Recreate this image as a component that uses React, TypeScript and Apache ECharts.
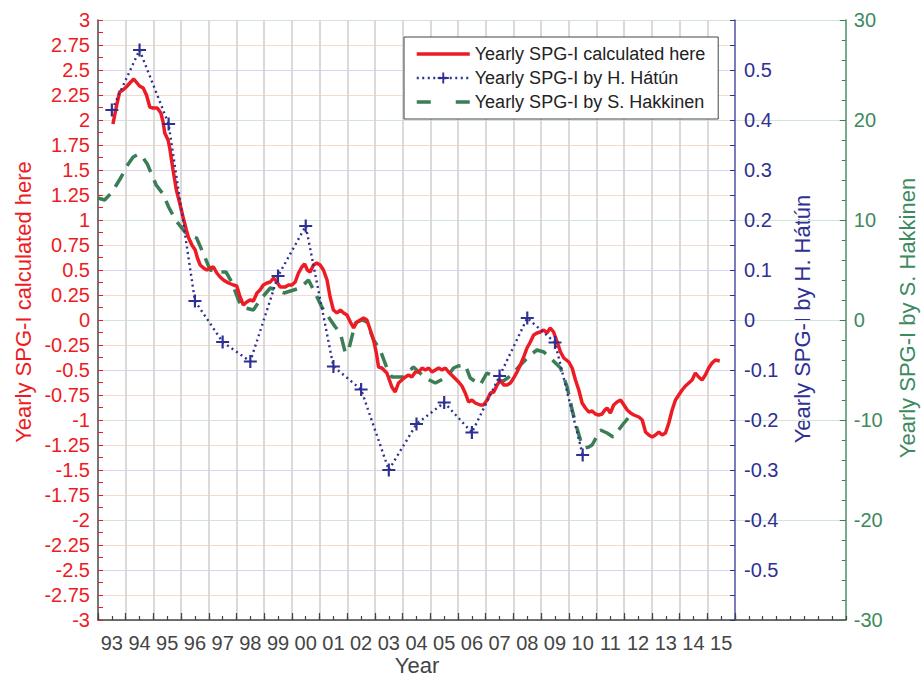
import React, { useEffect, useRef } from "react";
import * as echarts from "echarts";

// ---------- data ----------
const redYears = [
  1993.54, 1993.66, 1993.78, 1993.9, 1994.02, 1994.15, 1994.29, 1994.38, 1994.5, 1994.63,
  1994.75, 1994.87, 1994.99, 1995.14, 1995.27, 1995.35, 1995.41, 1995.53, 1995.59, 1995.71,
  1995.83, 1995.95, 1996.07, 1996.19, 1996.26, 1996.39, 1996.51, 1996.59, 1996.69, 1996.81,
  1996.93, 1997.05, 1997.17, 1997.29, 1997.41, 1997.53, 1997.71, 1997.89, 1998.01, 1998.13,
  1998.25, 1998.37, 1998.49, 1998.61, 1998.74, 1998.85, 1998.97, 1999.1, 1999.22, 1999.34,
  1999.46, 1999.58, 1999.76, 1999.88, 2000.0, 2000.12, 2000.24, 2000.36, 2000.46, 2000.56,
  2000.66, 2000.78, 2000.9, 2001.02, 2001.14, 2001.27, 2001.38, 2001.5, 2001.63, 2001.75,
  2001.87, 2001.99, 2002.11, 2002.23, 2002.35, 2002.47, 2002.59, 2002.71, 2002.83, 2002.95,
  2003.05, 2003.13, 2003.25, 2003.43, 2003.61, 2003.73, 2003.85, 2003.97, 2004.1, 2004.21,
  2004.33, 2004.46, 2004.58, 2004.7, 2004.82, 2004.94, 2005.06, 2005.18, 2005.3, 2005.42,
  2005.54, 2005.66, 2005.84, 2006.02, 2006.14, 2006.26, 2006.38, 2006.5, 2006.62, 2006.8,
  2006.92, 2007.05, 2007.17, 2007.29, 2007.41, 2007.53, 2007.65, 2007.77, 2007.89, 2008.01,
  2008.13, 2008.25, 2008.37, 2008.49, 2008.61, 2008.73, 2008.85, 2008.97, 2009.09, 2009.21,
  2009.33, 2009.45, 2009.58, 2009.7, 2009.82, 2010.0, 2010.12, 2010.24, 2010.36, 2010.48,
  2010.6, 2010.72, 2010.84, 2010.96, 2011.08, 2011.2, 2011.3, 2011.38, 2011.5, 2011.62,
  2011.74, 2011.87, 2011.99, 2012.11, 2012.23, 2012.35, 2012.53, 2012.65, 2012.77, 2012.89,
  2013.01, 2013.13, 2013.25, 2013.37, 2013.49, 2013.61, 2013.73, 2013.85, 2013.97, 2014.09,
  2014.21, 2014.33, 2014.45, 2014.57, 2014.69, 2014.81, 2014.93, 2015.05, 2015.17, 2015.29,
  2015.45,
];
const redValues = [
  1.96, 2.13, 2.28, 2.3, 2.33, 2.37, 2.41, 2.38, 2.34, 2.32,
  2.25, 2.13, 2.12, 2.12, 2.07, 1.98, 1.87, 1.8, 1.72, 1.5,
  1.3, 1.17, 1.03, 0.9, 0.83, 0.75, 0.7, 0.62, 0.55, 0.52,
  0.5, 0.52, 0.53, 0.47, 0.43, 0.4, 0.37, 0.35, 0.34, 0.23,
  0.15, 0.18, 0.2, 0.19, 0.27, 0.3, 0.35, 0.37, 0.38, 0.42,
  0.38, 0.33, 0.33, 0.35, 0.35, 0.38, 0.47, 0.53, 0.56, 0.5,
  0.48, 0.55, 0.57, 0.55, 0.5, 0.4, 0.23, 0.1, 0.07, 0.1,
  0.07, 0.05, -0.02, -0.08, -0.02, 0.0, 0.02, 0.0, -0.1, -0.2,
  -0.33, -0.47, -0.48, -0.53, -0.67, -0.72, -0.63, -0.6, -0.57, -0.55,
  -0.57, -0.52, -0.52, -0.48, -0.5, -0.48, -0.52, -0.5, -0.48, -0.5,
  -0.48, -0.52, -0.57, -0.62, -0.66, -0.73, -0.82, -0.8, -0.83, -0.85,
  -0.85, -0.8, -0.73, -0.72, -0.65, -0.6, -0.65, -0.65, -0.63, -0.58,
  -0.52, -0.45, -0.37, -0.28, -0.22, -0.15, -0.13, -0.12, -0.1, -0.13,
  -0.08, -0.12, -0.22, -0.32, -0.38, -0.42, -0.48, -0.6, -0.7, -0.83,
  -0.88, -0.92, -0.91, -0.94, -0.95, -0.94, -0.9, -0.88, -0.93, -0.85,
  -0.82, -0.8, -0.85, -0.9, -0.93, -0.95, -0.97, -1.0, -1.12, -1.15,
  -1.17, -1.15, -1.12, -1.15, -1.13, -1.03, -0.9, -0.8, -0.75, -0.7,
  -0.66, -0.63, -0.6, -0.53, -0.57, -0.6, -0.55, -0.48, -0.43, -0.4,
  -0.41,
];

const hatunYears = [
  1993.5, 1994.5, 1995.55, 1996.5, 1997.5, 1998.5, 1999.5, 2000.5, 2001.5, 2002.5,
  2003.5, 2004.5, 2005.5, 2006.5, 2007.5, 2008.5, 2009.5, 2010.5,
];
const hatunValues = [
  0.42, 0.54, 0.392, 0.038, -0.044, -0.083, 0.088, 0.188, -0.093, -0.139,
  -0.3, -0.208, -0.165, -0.225, -0.112, 0.004, -0.045, -0.27,
];

const hakYears = [
  1993.0, 1993.24, 1993.48, 1993.62, 1993.84, 1994.02, 1994.27, 1994.47, 1994.63, 1994.78,
  1995.1, 1995.35, 1995.55, 1995.8, 1996.14, 1996.3, 1996.56, 1996.87, 1997.05, 1997.35,
  1997.62, 1997.83, 1998.07, 1998.19, 1998.61, 1998.85, 1999.22, 1999.45, 1999.72, 2000.3,
  2000.6, 2000.84, 2001.08, 2001.57, 2001.75, 2001.93, 2002.05, 2002.29, 2002.53, 2002.71,
  2002.95, 2003.19, 2003.43, 2003.61, 2004.03, 2004.39, 2004.82, 2005.18, 2005.6, 2005.84,
  2006.0, 2006.26, 2006.44, 2006.8, 2007.04, 2007.3, 2007.58, 2007.94, 2008.25, 2008.61,
  2008.85, 2009.1, 2009.33, 2009.7, 2009.94, 2010.12, 2010.24, 2010.42, 2010.58, 2010.72,
  2010.84, 2011.14, 2011.38, 2011.6, 2011.99, 2012.29,
];
const hakValues = [
  12.2, 12.0, 12.7, 13.3, 14.3, 15.3, 16.3, 16.6, 16.2, 15.6,
  13.5, 12.6, 11.3, 10.0, 8.8, 8.5, 8.2, 6.2, 5.0, 4.8,
  4.8, 3.8, 2.0, 1.3, 1.0, 2.0, 3.2, 3.0, 2.7, 3.2,
  4.0, 2.7, 1.3, -0.7, -1.3, -3.3, -3.0, -0.3, 0.0, -0.2,
  -2.0, -3.0, -4.8, -5.7, -5.7, -4.7, -5.8, -6.3, -5.7, -4.8,
  -4.6, -4.5, -5.8, -6.5, -5.3, -5.6, -6.2, -5.5, -4.5, -3.5,
  -3.0, -3.2, -3.8, -4.8, -6.7, -9.0, -10.3, -12.0, -12.8, -12.7,
  -12.5, -11.0, -11.3, -11.7, -10.3, -9.3,
];

const seriesNames = [
  "Yearly SPG-I calculated here",
  "Yearly SPG-I by H. Hátún",
  "Yearly SPG-I by S. Hakkinen",
];
const axisNames = [
  "Yearly SPG-I calculated here",
  "Yearly SPG-I by H. Hátún",
  "Yearly SPG-I by S. Hakkinen",
];
const xName = "Year";

// ---------- styles ----------
const FONT = "Liberation Sans, Arial, Helvetica, sans-serif";
const RED = "#ed1c24";
const NAVY = "#2e3192";
const GREEN = "#3a7d57";
const GREEN_TXT = "#3d8a5e";
const DARK = "#444";

const PLUS =
  "path://M5,0 L7,0 L7,5 L12,5 L12,7 L7,7 L7,12 L5,12 L5,7 L0,7 L0,5 L5,5 Z";

const pair = (xs: number[], ys: number[]) => xs.map((x, i) => [x, ys[i]]);

export default function App() {
  const ref = useRef<HTMLDivElement>(null);

  useEffect(() => {
    if (!ref.current) return;
    const chart = echarts.init(ref.current, undefined, { renderer: "svg" });

    const gridLeft = 98;
    const gridTop = 20;
    const gridH = 600;
    const widthA = 637; // 1993..2016
    const widthB = (widthA * 27) / 23; // 1993..2020

    const option: any = {
      animation: false,
      backgroundColor: "#fff",
      textStyle: { fontFamily: FONT },
      grid: [
        { left: gridLeft, top: gridTop, width: widthA, height: gridH },
        { left: gridLeft, top: gridTop, width: widthB, height: gridH },
      ],
      xAxis: [
        {
          type: "value",
          gridIndex: 0,
          min: 1993,
          max: 2016,
          interval: 1,
          axisLine: { show: false, onZero: false },
          axisTick: { show: true, inside: true, length: 7, lineStyle: { color: DARK, width: 1.2 } },
          axisLabel: { show: false },
          splitLine: { show: true, lineStyle: { color: "#d6d6d6", width: 1.8 } },
        },
        {
          type: "value",
          gridIndex: 1,
          min: 1993,
          max: 2020,
          interval: 0.5,
          axisLine: { show: true, onZero: false, lineStyle: { color: DARK, width: 1.5 } },
          axisTick: { show: true, inside: true, length: 4, lineStyle: { color: DARK, width: 1.2 } },
          axisLabel: {
            show: true,
            margin: 13,
            color: DARK,
            fontSize: 20,
            fontFamily: FONT,
            showMinLabel: true,
            showMaxLabel: true,
            formatter: (v: number) => {
              const frac = Math.abs(v - Math.floor(v) - 0.5) < 1e-6;
              if (!frac || v > 2016) return "";
              const y = Math.floor(v) % 100;
              return (y < 10 ? "0" : "") + y;
            },
          },
          splitLine: { show: false },
        },
      ],
      yAxis: [
        {
          type: "value",
          gridIndex: 0,
          position: "left",
          min: -3,
          max: 3,
          interval: 0.25,
          axisLine: { show: true, onZero: false, lineStyle: { color: "#555", width: 1.5 } },
          axisTick: { show: true, inside: true, length: 5, lineStyle: { color: RED } },
          minorTick: { show: true, splitNumber: 2, length: 5, lineStyle: { color: RED } },
          axisLabel: { color: RED, fontSize: 20, fontFamily: FONT, margin: 8 },
          splitLine: { show: true, lineStyle: { color: "#f6d8cd", width: 1 } },
        },
        {
          type: "value",
          gridIndex: 0,
          position: "right",
          min: -0.6,
          max: 0.6,
          interval: 0.1,
          axisLine: { show: true, onZero: false, lineStyle: { color: "#5a5db0", width: 1.5 } },
          axisTick: { show: true, inside: true, length: 5, lineStyle: { color: NAVY } },
          minorTick: { show: true, splitNumber: 2, length: 5, lineStyle: { color: NAVY } },
          axisLabel: {
            color: NAVY,
            fontSize: 20,
            fontFamily: FONT,
            margin: 9,
            showMinLabel: false,
            showMaxLabel: false,
          },
          splitLine: { show: true, lineStyle: { color: "#d9d4f0", width: 1 } },
        },
        {
          type: "value",
          gridIndex: 1,
          position: "right",
          min: -30,
          max: 30,
          interval: 10,
          axisLine: { show: true, onZero: false, lineStyle: { color: "#4a8d64", width: 1.5 } },
          axisTick: { show: true, inside: true, length: 6, lineStyle: { color: GREEN } },
          minorTick: { show: true, splitNumber: 5, length: 4, lineStyle: { color: GREEN } },
          axisLabel: { color: GREEN_TXT, fontSize: 20, fontFamily: FONT, margin: 8 },
          splitLine: { show: true, lineStyle: { color: "#d2e6d8", width: 1 } },
        },
      ],
      legend: {
        orient: "vertical",
        left: 404,
        top: 37,
        padding: [8, 13, 8, 11],
        itemGap: 6,
        itemWidth: 53,
        itemHeight: 14,
        backgroundColor: "#fff",
        borderColor: "#444",
        borderWidth: 1,
        borderRadius: 0,
        textStyle: { fontSize: 18, color: "#222", fontFamily: FONT },
        data: [
          { name: seriesNames[0], itemStyle: { opacity: 0 }, lineStyle: { width: 3.5 } },
          { name: seriesNames[1], lineStyle: { width: 2.4 } },
          {
            name: seriesNames[2],
            itemStyle: { opacity: 0 },
            lineStyle: { width: 3.5, type: [14, 25] },
          },
        ],
      },
      series: [
        {
          name: seriesNames[0],
          type: "line",
          xAxisIndex: 0,
          yAxisIndex: 0,
          data: pair(redYears, redValues),
          symbol: "none",
          z: 5,
          lineStyle: { color: RED, width: 3.5 },
          itemStyle: { color: RED },
        },
        {
          name: seriesNames[1],
          type: "line",
          xAxisIndex: 0,
          yAxisIndex: 1,
          data: pair(hatunYears, hatunValues),
          symbol: PLUS,
          symbolSize: 13,
          z: 6,
          lineStyle: { color: NAVY, width: 2.4, type: [2, 3.5] },
          itemStyle: { color: NAVY },
        },
        {
          name: seriesNames[2],
          type: "line",
          xAxisIndex: 1,
          yAxisIndex: 2,
          data: pair(hakYears, hakValues),
          symbol: "none",
          z: 4,
          lineStyle: { color: GREEN, width: 3.5, type: [15, 9] },
          itemStyle: { color: GREEN },
        },
      ],
      graphic: [
        {
          type: "text",
          x: 23,
          y: 302,
          rotation: Math.PI / 2,
          style: {
            text: axisNames[0],
            fill: RED,
            fontSize: 22,
            fontFamily: FONT,
            align: "center",
            verticalAlign: "middle",
          },
        },
        {
          type: "text",
          x: 802,
          y: 319,
          rotation: Math.PI / 2,
          style: {
            text: axisNames[1],
            fill: NAVY,
            fontSize: 22,
            fontFamily: FONT,
            align: "center",
            verticalAlign: "middle",
          },
        },
        {
          type: "text",
          x: 907,
          y: 318,
          rotation: Math.PI / 2,
          style: {
            text: axisNames[2],
            fill: GREEN_TXT,
            fontSize: 22,
            fontFamily: FONT,
            align: "center",
            verticalAlign: "middle",
          },
        },
        {
          type: "text",
          x: 417,
          y: 665,
          style: {
            text: xName,
            fill: DARK,
            fontSize: 22,
            fontFamily: FONT,
            align: "center",
            verticalAlign: "middle",
          },
        },
      ],
    };

    chart.setOption(option);
    return () => chart.dispose();
  }, []);

  return (
    <div
      ref={ref}
      style={{ position: "fixed", left: 0, top: 0, width: 921, height: 678, background: "#fff" }}
    />
  );
}
